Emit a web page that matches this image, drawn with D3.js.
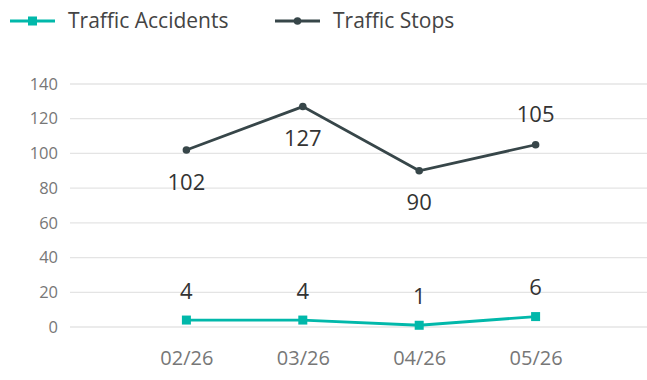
<!DOCTYPE html>
<html>
<head>
<meta charset="utf-8">
<script src="https://cdn.jsdelivr.net/npm/d3@7"></script>
<style>
  body { margin: 0; background: #fff; }
  svg { display: block; font-family: "Open Sans", "Noto Sans", sans-serif; }
</style>
</head>
<body>
<div id="chart"></div>
<script>
// data
var months = ["02/26", "03/26", "04/26", "05/26"];
var accidents = [4, 4, 1, 6];
var stops = [102, 127, 90, 105];
var stopsLabelSide = ["below", "below", "below", "above"];
var yTicks = [0, 20, 40, 60, 80, 100, 120, 140];

var W = 647, H = 380;
var cfg = {
    left: 70, right: 652, top: 84, bottom: 327,
    teal: "#01B8AA",
    dark: "#374649",
    grid: "#e4e4e4"
};

var svg = d3.select("#chart").append("svg")
    .attr("width", W).attr("height", H);

var x = d3.scalePoint().domain(months).range([cfg.left, cfg.right]).padding(1);
var y = d3.scaleLinear().domain([0, 140]).range([cfg.bottom, cfg.top]);

//gridlines
svg.append("g").selectAll("line")
    .data(yTicks).enter().append("line")
    .attr("x1", cfg.left).attr("x2", W)
    .attr("y1", function(d){ return y(d); })
    .attr("y2", function(d){ return y(d); })
    .style("stroke", cfg.grid).style("stroke-width", "1.3px");

//y axis labels
var yAxis = svg.append("g")
    .attr("transform", "translate(" + (cfg.left - 12) + ",0)")
    .call(d3.axisLeft(y).tickValues(yTicks).tickSize(0).tickPadding(0));
yAxis.select(".domain").remove();
yAxis.selectAll("text")
    .style("font-size", "16.5px").style("fill", "#777")
    .style("font-family", "'Open Sans', sans-serif");

//x axis labels
var xAxis = svg.append("g")
    .attr("transform", "translate(0," + (cfg.bottom + 24) + ")")
    .call(d3.axisBottom(x).tickSize(0).tickPadding(0));
xAxis.select(".domain").remove();
xAxis.selectAll("text")
    .style("font-size", "20px").style("fill", "#777")
    .style("font-family", "'Open Sans', sans-serif");

var line = d3.line()
    .x(function(d, i){ return x(months[i]); })
    .y(function(d){ return y(d); });

//Traffic Stops
svg.append("path")
    .datum(stops)
    .attr("d", line)
    .style("fill", "none").style("stroke", cfg.dark).style("stroke-width", "2.8px");
svg.append("g").selectAll("circle")
    .data(stops).enter().append("circle")
    .attr("cx", function(d, i){ return x(months[i]); })
    .attr("cy", function(d){ return y(d); })
    .attr("r", 3.8)
    .style("fill", cfg.dark);
svg.append("g").selectAll("text")
    .data(stops).enter().append("text")
    .attr("x", function(d, i){ return x(months[i]); })
    .attr("y", function(d, i){ return y(d) + (stopsLabelSide[i] == "below" ? 32 : -30); })
    .attr("dy", "0.35em")
    .attr("text-anchor", "middle")
    .style("font-size", "22px").style("fill", "#333")
    .text(function(d){ return d; });

//Traffic Accidents
svg.append("path")
    .datum(accidents)
    .attr("d", line)
    .style("fill", "none").style("stroke", cfg.teal).style("stroke-width", "2.8px");
svg.append("g").selectAll("rect")
    .data(accidents).enter().append("rect")
    .attr("x", function(d, i){ return x(months[i]) - 4.5; })
    .attr("y", function(d){ return y(d) - 4.5; })
    .attr("width", 9).attr("height", 9)
    .style("fill", cfg.teal);
svg.append("g").selectAll("text")
    .data(accidents).enter().append("text")
    .attr("x", function(d, i){ return x(months[i]); })
    .attr("y", function(d){ return y(d) - 29; })
    .attr("dy", "0.35em")
    .attr("text-anchor", "middle")
    .style("font-size", "22px").style("fill", "#333")
    .text(function(d){ return d; });

//legend
var legendItems = [
    {name: "Traffic Accidents", color: cfg.teal, shape: "square", x: 10},
    {name: "Traffic Stops", color: cfg.dark, shape: "circle", x: 275}
];
var lg = svg.append("g").selectAll("g")
    .data(legendItems).enter().append("g")
    .attr("transform", function(d){ return "translate(" + d.x + ",21)"; });
lg.append("line")
    .attr("x1", 0).attr("x2", 45).attr("y1", 0).attr("y2", 0)
    .style("stroke", function(d){ return d.color; })
    .style("stroke-width", "3px");
lg.filter(function(d){ return d.shape == "square"; }).append("rect")
    .attr("x", 18).attr("y", -4.5).attr("width", 9).attr("height", 9)
    .style("fill", function(d){ return d.color; });
lg.filter(function(d){ return d.shape == "circle"; }).append("circle")
    .attr("cx", 22.5).attr("cy", 0).attr("r", 3.8)
    .style("fill", function(d){ return d.color; });
lg.append("text")
    .attr("x", 58).attr("dy", "0.35em")
    .style("font-size", "21px").style("fill", "#444")
    .text(function(d){ return d.name; });
</script>
</body>
</html>
